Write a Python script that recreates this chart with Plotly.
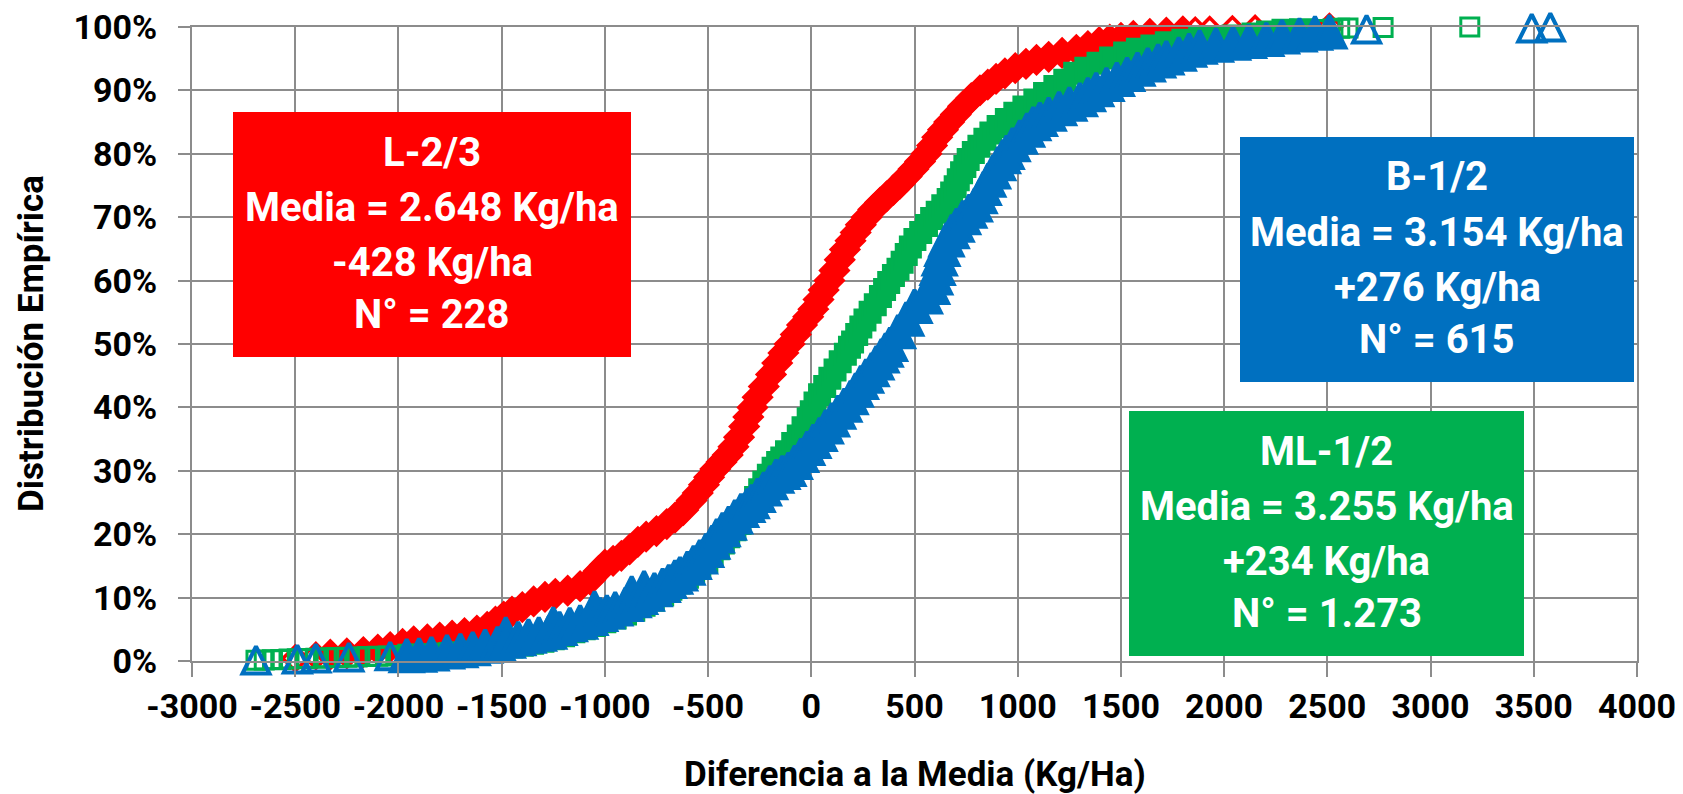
import plotly.graph_objects as go

# ---------------- data (x = Kg/Ha difference, p = %) -------------
RED_X = [-2500, -2400, -2330, -2250, -2170, -2100, -2040, -1980, -1926, -1860, -1800, -1740,
         -1680, -1620, -1570, -1530, -1490, -1450, -1400, -1345, -1290, -1240, -1180, -1120,
         -1070, -1030, -1000, -960, -920, -880, -840, -800, -750, -700, -660, -620, -580,
         -550, -520, -495, -465, -435, -405, -377, -350, -325, -305, -285, -260, -230, -195,
         -165, -135, -105, -75, -45, -15, 10, 35, 60, 88, 112, 138, 163, 190, 215, 240, 268,
         300, 333, 365, 398, 430, 462, 495, 527, 558, 585, 610, 638, 668, 700, 735, 775, 817,
         855, 895, 938, 988, 1040, 1091, 1150, 1215, 1284, 1340, 1395, 1446, 1500, 1560, 1640,
         1720, 1800, 1860, 1930, 2040, 2150, 2510]
RED_P = [0.4, 0.8, 1.0, 1.2, 1.4, 1.8, 2.2, 2.7, 3.1, 3.4, 3.7, 4.0,
         4.4, 4.8, 5.4, 6.2, 7.0, 7.8, 8.5, 9.4, 10.1, 10.6, 11.1, 11.8,
         12.8, 14.2, 15.2, 15.8, 16.6, 17.6, 18.8, 19.6, 20.5, 21.6, 22.6, 23.8, 25.3,
         26.5, 27.8, 29.0, 30.3, 31.4, 32.5, 33.8, 35.3, 37.0, 38.5, 40.0, 41.6, 43.3, 45.2,
         47.0, 48.6, 50.0, 51.5, 53.0, 54.3, 55.5, 57.0, 58.5, 60.0, 61.6, 63.3, 64.9, 66.3, 67.6, 68.8, 70.0,
         71.2, 72.3, 73.3, 74.3, 75.3, 76.4, 77.6, 78.8, 80.0, 81.3, 82.6, 83.8, 85.0, 86.2, 87.5, 88.8, 90.0,
         90.9, 91.8, 92.7, 93.5, 94.2, 94.8, 95.3, 95.9, 96.4, 97.0, 97.6, 98.0, 98.3, 98.6, 98.9,
         99.1, 99.3, 99.4, 99.5, 99.6, 99.7, 100.0]

GREEN_X = [-2690, -2650, -2610, -2570, -2530, -2490, -2450, -2400, -2350, -2300, -2250, -2200,
           -2150, -2100, -2050, -2000, -1950, -1900, -1850, -1800, -1750, -1700, -1650, -1600,
           -1550, -1500, -1450, -1400, -1350, -1300, -1250, -1200, -1150, -1100, -1050, -1000,
           -950, -900, -860, -810, -765, -720, -680, -640, -600, -570, -540, -506, -480, -450,
           -426, -400, -370, -345, -320, -295, -270, -250, -230, -208, -185, -163, -143, -120,
           -90, -63, -40, -15, 0, 18, 40, 65, 90, 115, 140, 165, 185, 200, 220, 240, 260, 285,
           310, 335, 355, 375, 398, 420, 440, 460, 480, 502, 530, 558, 583, 610, 637, 663, 680,
           697, 712, 728, 744, 760, 785, 812, 841, 870, 905, 945, 986, 1030, 1083, 1130, 1180,
           1228, 1276, 1330, 1389, 1450, 1518, 1580, 1650, 1720, 1800, 1881, 1960, 2043, 2140,
           2210, 2285, 2370, 2446, 2527, 2560, 2600, 2770, 3190]
GREEN_P = [0.1, 0.15, 0.2, 0.25, 0.3, 0.35, 0.4, 0.45, 0.5, 0.55, 0.6, 0.65,
           0.7, 0.75, 0.8, 0.85, 0.9, 0.95, 1.0, 1.1, 1.2, 1.3, 1.4, 1.5,
           1.7, 1.9, 2.2, 2.5, 2.8, 3.1, 3.5, 4.0, 4.6, 5.1, 5.6, 6.2,
           6.8, 7.4, 8.0, 8.8, 9.6, 10.4, 11.3, 12.3, 13.2, 14.0, 14.8, 15.7, 16.6, 17.7,
           18.6, 19.6, 20.7, 21.7, 23.0, 24.4, 25.8, 27.0, 28.2, 29.3, 30.4, 31.3, 32.0, 33.0,
           34.3, 35.5, 36.8, 38.2, 39.3, 40.7, 42.0, 43.3, 44.6, 45.9, 47.2, 48.4, 49.5, 50.3, 51.5, 52.7, 53.8, 55.0,
           56.2, 57.5, 58.6, 59.7, 60.8, 61.8, 62.9, 64.1, 65.3, 66.5, 67.6, 68.7, 69.8, 70.8, 71.8, 72.8, 73.8,
           74.8, 75.9, 77.0, 78.0, 79.1, 80.2, 81.2, 82.3, 83.3, 84.3, 85.4, 86.4, 87.4, 88.5, 89.5, 90.6,
           91.6, 92.7, 93.5, 94.3, 95.1, 95.9, 96.5, 97.0, 97.5, 97.9, 98.3, 98.4, 98.6, 98.9,
           99.2, 99.5, 99.55, 99.6, 99.7, 99.8, 99.85, 99.92, 100.0]

BLUE_X = [-2690, -2490, -2400, -2240, -2040, -1960, -1900, -1840, -1765, -1700, -1640, -1580,
          -1520, -1480, -1470, -1420, -1370, -1320, -1270, -1250, -1220, -1170, -1120, -1070,
          -1050, -1023, -990, -950, -900, -870, -861, -830, -810, -797, -760, -720, -690, -660,
          -636, -600, -570, -540, -510, -480, -458, -430, -400, -370, -340, -310, -289, -260,
          -230, -200, -170, -140, -111, -80, -50, -20, 10, 40, 70, 100, 130, 160, 190, 215,
          240, 265, 292, 315, 340, 360, 381, 420, 460, 500, 550, 585, 600, 612, 622, 635, 655,
          680, 704, 735, 765, 792, 815, 835, 857, 880, 905, 928, 946, 975, 1010, 1045, 1075,
          1107, 1150, 1200, 1250, 1301, 1340, 1380, 1430, 1480, 1530, 1580, 1630, 1680, 1720,
          1780, 1830, 1881, 1960, 2043, 2120, 2204, 2280, 2365, 2440, 2510, 2690, 3490, 3580]
BLUE_P = [0.16, 0.33, 0.49, 0.65, 0.81, 0.9, 1.0, 1.2, 1.5, 1.7, 2.0, 2.4,
          2.8, 4.3, 3.2, 3.6, 4.0, 4.3, 4.6, 5.9, 5.2, 5.8, 6.2, 6.8,
          8.4, 7.4, 7.8, 8.3, 9.0, 10.8, 9.6, 10.1, 11.6, 10.6, 11.3, 12.0, 12.6, 13.3,
          13.8, 14.7, 15.6, 16.5, 17.5, 18.8, 19.8, 20.8, 21.8, 22.8, 23.8, 24.6, 25.2, 26.2,
          27.2, 28.2, 29.2, 29.8, 30.3, 31.4, 32.5, 33.6, 34.7, 35.8, 37.0, 38.1, 39.3, 40.4, 41.6, 42.8,
          44.0, 45.0, 46.0, 47.1, 48.2, 49.1, 50.0, 52.0, 54.0, 56.0, 57.5, 59.0, 60.5, 62.0, 63.5, 65.0, 66.5,
          67.8, 68.8, 70.0, 71.0, 72.0, 73.3, 74.6, 75.9, 77.2, 78.5, 79.6, 80.3, 81.5, 82.7, 83.8, 84.8,
          85.5, 86.3, 87.2, 87.9, 88.6, 89.4, 90.2, 91.0, 91.8, 92.6, 93.4, 94.1, 94.7, 95.2,
          95.8, 96.4, 96.9, 97.2, 97.5, 97.8, 98.1, 98.5, 98.8, 99.1, 99.3, 99.67, 99.84, 100.0]

X_TICKS = list(range(-3000, 4001, 500))
Y_TICKS = list(range(0, 101, 10))

BOXES = [
    # (color, x0, x1, y_top, lines)   positions in page pixels
    ("#FF0000", 233, 631, 112, ["L-2/3", "Media = 2.648 Kg/ha", "-428 Kg/ha", "N° = 228"]),
    ("#0070C0", 1240, 1634, 137, ["B-1/2", "Media = 3.154 Kg/ha", "+276 Kg/ha", "N° = 615"]),
    ("#00B050", 1129, 1524, 411, ["ML-1/2", "Media = 3.255 Kg/ha", "+234 Kg/ha", "N° = 1.273"]),
]

# ---------------- layout geometry / styles ----------------
PAGE_W, PAGE_H = 1683, 794
BODY_OFF = 8                      # default page margin around the plot div
W, H = PAGE_W - BODY_OFF, PAGE_H - BODY_OFF
PL, PR, PT, PB = 192, 1637, 27, 661   # plot area in page pixels
BOX_H = 245
LINE_OFFS = [40, 95, 150, 202]
FONT = "Roboto"
GRID = "#8c8c8c"


def fx(p):
    return (p - PL) / (PR - PL)


def fy(p):
    return (PB - p) / (PB - PT)


def marker_style(n, base, open_low, open_high, size_iso, size_body):
    syms, sizes = [], []
    for i in range(n):
        isolated = i < open_low or i >= n - open_high
        syms.append(base + "-open" if isolated else base)
        sizes.append(size_iso if isolated else size_body)
    return syms, sizes


SERIES = [
    # x, p, color, base symbol, isolated size, body size, line width, isolated start/end, centred arrow
    (RED_X, RED_P, "#FF0000", "diamond", 19, 21, 3.5, 2, 5, False),
    (GREEN_X, GREEN_P, "#00B050", "square", 18, 20, 3, 16, 6, False),
    (BLUE_X, BLUE_P, "#0070C0", "arrow-down", 27, 32, 4, 5, 3, True),
]

fig = go.Figure()
for xs, ps, color, base, s_iso, s_body, lw, lo, hi, arrow in SERIES:
    syms, sizes = marker_style(len(xs), base, lo, hi, s_iso, s_body)
    extra = dict(angle=180, standoff=[s / 2 for s in sizes]) if arrow else {}
    fig.add_trace(go.Scatter(
        x=xs, y=ps, mode="markers", cliponaxis=False, showlegend=False, hoverinfo="skip",
        marker=dict(symbol=syms, size=sizes, color=color, opacity=1,
                    line=dict(color=color, width=lw), **extra)))

axis_common = dict(
    showgrid=True, gridcolor=GRID, gridwidth=2, zeroline=False, automargin=False,
    showline=True, linecolor=GRID, linewidth=2, mirror=True,
    ticks="outside", tickcolor=GRID, tickwidth=2, ticklabeloverflow="allow",
    tickfont=dict(family=FONT, size=34, color="black", weight="bold"),
)

fig.update_xaxes(range=[-3000, 4000], tickvals=X_TICKS, ticktext=[str(v) for v in X_TICKS],
                 ticklen=14, **axis_common)
fig.update_yaxes(range=[0, 100], tickvals=Y_TICKS, ticktext=[f"{v}%" for v in Y_TICKS],
                 ticklen=12, ticklabelstandoff=14, **axis_common)

shapes = []
annotations = []
for color, x0, x1, ytop, lines in BOXES:
    shapes.append(dict(type="rect", xref="paper", yref="paper", x0=fx(x0), x1=fx(x1),
                       y0=fy(ytop + BOX_H), y1=fy(ytop), fillcolor=color, line=dict(width=0),
                       layer="above"))
    cx = fx((x0 + x1) / 2)
    for off, t in zip(LINE_OFFS, lines):
        annotations.append(dict(text=t, xref="paper", yref="paper", x=cx, y=fy(ytop + off),
                                xanchor="center", yanchor="middle", showarrow=False,
                                font=dict(family=FONT, size=40, color="white", weight="bold")))

annotations.append(dict(text="Diferencia a la Media (Kg/Ha)", xref="paper", yref="paper",
                        x=fx((PL + PR) / 2), y=fy(774), xanchor="center", yanchor="middle",
                        showarrow=False,
                        font=dict(family=FONT, size=35, color="black", weight="bold")))
annotations.append(dict(text="Distribución Empírica", xref="paper", yref="paper",
                        x=fx(31), y=fy(344), xanchor="center", yanchor="middle",
                        textangle=-90, showarrow=False,
                        font=dict(family=FONT, size=35, color="black", weight="bold")))

fig.update_layout(
    width=W, height=H, autosize=False,
    margin=dict(l=PL - BODY_OFF, r=PAGE_W - PR, t=PT - BODY_OFF, b=PAGE_H - PB,
                autoexpand=False),
    paper_bgcolor="white", plot_bgcolor="white",
    shapes=shapes, annotations=annotations,
)

fig.write_html("out.html")
